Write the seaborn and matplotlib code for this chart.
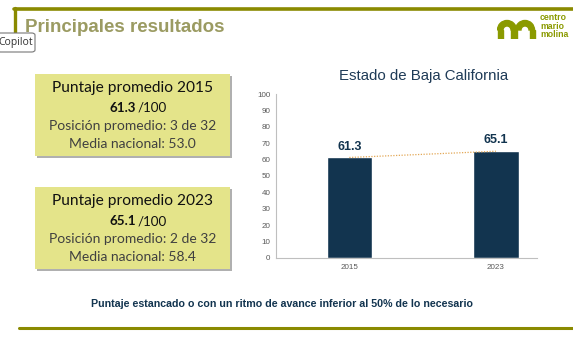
import matplotlib
matplotlib.use("Agg")
import matplotlib.pyplot as plt
import seaborn as sns
import pandas as pd
from matplotlib.patches import Rectangle, FancyBboxPatch, Wedge

# ---- data ----
years = ["2015", "2023"]
scores = [61.3, 65.1]
yticks = [0, 10, 20, 30, 40, 50, 60, 70, 80, 90, 100]
box_titles = ["Puntaje promedio 2015", "Puntaje promedio 2023"]
box_scores = ["61.3", "65.1"]
box_positions = ["Posición promedio: 3 de 32", "Posición promedio: 2 de 32"]
box_national = ["Media nacional: 53.0", "Media nacional: 58.4"]
chart_title = "Estado de Baja California"
slide_title = "Principales resultados"
footnote = "Puntaje estancado o con un ritmo de avance inferior al 50% de lo necesario"

W, H = 573, 337
OLIVE = "#8a8a00"
NAVY = "#12344f"
BOX = "#e4e48a"

sns.set_theme(style="white")
plt.rcParams["font.family"] = ["Liberation Sans", "DejaVu Sans"]

fig = plt.figure(figsize=(W / 100, H / 100), dpi=100)
fig.patch.set_facecolor("white")

def fx(x):
    return x / W

def fy(y):
    return 1 - y / H

# ---- slide frame ----
fig.add_artist(plt.Line2D([fx(14), fx(573)], [fy(8.5), fy(8.5)], color=OLIVE, lw=2.6))
fig.add_artist(plt.Line2D([fx(15), fx(15)], [fy(8), fy(46)], color=OLIVE, lw=2.4))
fig.add_artist(plt.Line2D([fx(19), fx(573)], [fy(328), fy(328)], color=OLIVE, lw=2.2))

fig.text(fx(25), fy(27), slide_title, fontsize=13.5, fontweight="bold",
         color="#9b9b62", ha="left", va="center")

# logo
lax = fig.add_axes([fx(497), fy(39), fx(40), 22 / H])
lax.set_xlim(0, 40)
lax.set_ylim(0, 22)
lax.axis("off")
lax.add_patch(Wedge((10, 9), 9.5, 0, 180, width=5.5, color="#8a9a00"))
lax.add_patch(Wedge((28, 9), 9.5, 0, 180, width=5.5, color="#8a9a00"))
lax.add_patch(Rectangle((0.5, 0), 5.5, 9, color="#8a9a00"))
lax.add_patch(Rectangle((14, 0), 5.5, 9, color="#8a9a00"))
lax.add_patch(Rectangle((32.5, 0), 5, 9, color="#8a9a00"))
for i, w in enumerate(["centro", "mario", "molina"]):
    fig.text(fx(540), fy(18 + i * 8.2), w, fontsize=6.3, fontweight="bold",
             color="#8a9a00", ha="left", va="center")

# copilot tooltip
fig.add_artist(FancyBboxPatch((fx(-3), fy(52)), fx(38), 19 / H,
                              boxstyle="round,pad=0,rounding_size=0.006",
                              fc="white", ec="#777777", lw=0.8, zorder=10))
fig.text(fx(16), fy(42), "Copilot", fontsize=7.5, color="#333333",
         ha="center", va="center", zorder=11, family=["Open Sans", "DejaVu Sans"])

# ---- info boxes ----
box_tops = [74, 187]
for i in range(2):
    top = box_tops[i]
    fig.add_artist(Rectangle((fx(37), fy(top + 84)), fx(195), 82 / H,
                             fc="#b0b0b0", ec="none", zorder=1))
    fig.add_artist(Rectangle((fx(35), fy(top + 82)), fx(195), 82 / H,
                             fc=BOX, ec="none", zorder=2))
    cx = fx(132.5)
    fig.text(cx, fy(top + 14), box_titles[i], fontsize=11.2, color="#111111",
             ha="center", va="center", zorder=3, family=["Lato", "DejaVu Sans"])
    fig.text(fx(136), fy(top + 34), box_scores[i], fontsize=9.6, fontweight="bold",
             color="#111111", ha="right", va="center", zorder=3, family=["Lato", "DejaVu Sans"])
    fig.text(fx(137.5), fy(top + 34), "/100", fontsize=9.6, color="#111111",
             ha="left", va="center", zorder=3, family=["Lato", "DejaVu Sans"])
    fig.text(cx, fy(top + 52), box_positions[i], fontsize=10, color="#404040",
             ha="center", va="center", zorder=3, family=["Lato", "DejaVu Sans"])
    fig.text(cx, fy(top + 70), box_national[i], fontsize=10, color="#404040",
             ha="center", va="center", zorder=3, family=["Lato", "DejaVu Sans"])

# ---- chart ----
ax = fig.add_axes([fx(276), fy(258), fx(261), 164 / H])
df = pd.DataFrame({"year": years, "score": scores})
sns.barplot(data=df, x="year", y="score", color=NAVY, saturation=1, width=0.31, ax=ax)
ax.plot([0, 1], scores, linestyle=(0, (1, 1.2)), color="#e3a857", lw=0.9, zorder=5)
for i, v in enumerate(scores):
    ax.text(i, v + 3, f"{v:.1f}", ha="center", va="bottom", fontsize=9,
            fontweight="bold", color=NAVY)
ax.set_xlim(-0.5, 1.28)
ax.set_ylim(0, 100)
ax.set_yticks(yticks)
ax.set_yticklabels([str(t) for t in yticks])
ax.tick_params(axis="both", labelsize=5.8, labelcolor="#595959", length=0, pad=4)
ax.set_xlabel("")
ax.set_ylabel("")
for s in ["top", "right"]:
    ax.spines[s].set_visible(False)
for s in ["left", "bottom"]:
    ax.spines[s].set_color("#bfbfbf")
    ax.spines[s].set_linewidth(0.8)
ax.set_facecolor("white")

fig.text(fx(424), fy(76), chart_title, fontsize=10.8, color="#1f3b57",
         ha="center", va="center")

fig.text(fx(282), fy(304), footnote, fontsize=7.7, fontweight="bold",
         color=NAVY, ha="center", va="center")

fig.savefig("out.png", dpi=100, facecolor="white")
